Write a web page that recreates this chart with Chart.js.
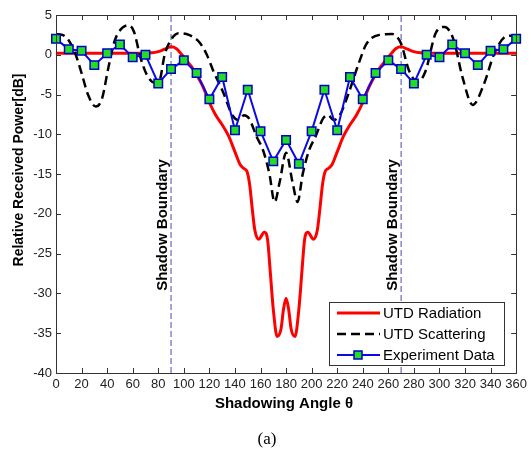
<!DOCTYPE html>
<html>
<head>
<meta charset="utf-8">
<script src="https://cdn.jsdelivr.net/npm/chart.js@4.4.1/dist/chart.umd.min.js"></script>
<style>
  body { margin: 0; background: #fff; }
  #wrap { width: 531px; height: 450px; }
</style>
</head>
<body>
<div id="wrap"><canvas id="chart" width="531" height="450"></canvas></div>
<script>
// UTD Radiation (red solid)
const radAngles = [0, 10, 20, 30, 40, 50, 60, 70, 75, 80, 85, 90, 94, 98, 102, 106, 110, 115, 120, 125, 130, 135, 140, 144, 147, 149.5, 151.5, 153.5, 155.5, 158.5, 163, 165.5, 167.5, 170, 173, 176, 178, 180,
    182, 184, 187, 190, 192.5, 194.5, 197, 201.5, 204.5, 206.5, 208.5, 210.5, 213, 216, 220, 225, 230, 235, 240, 245, 250, 254, 258, 262, 266, 270, 275, 280, 285, 290, 300, 310, 320, 330, 340, 350, 360];
const radPower = [0.2, 0.2, 0.2, 0.2, 0.2, 0.2, 0.2, 0.2, 0.25, 0.4, 0.7, 1.0, 0.8, 0.1, -0.7, -1.5, -2.5, -4.0, -6.0, -7.6, -8.8, -10.2, -12.2, -13.8, -14.3, -14.7, -16.3, -19.3, -22.0, -23.2, -22.3, -23.2, -27.0, -32.0, -35.4, -34.5, -32.0, -30.6,
    -32.0, -34.5, -35.4, -32.0, -27.0, -23.2, -22.3, -23.2, -22.0, -19.3, -16.3, -14.7, -14.3, -13.8, -12.2, -10.2, -8.8, -7.6, -6.0, -4.0, -2.5, -1.5, -0.7, 0.1, 0.8, 1.0, 0.7, 0.4, 0.25, 0.2, 0.2, 0.2, 0.2, 0.2, 0.2, 0.2, 0.2];

// UTD Scattering (black dashed)
const scatAngles = [0, 5, 10, 15, 20, 25, 31, 36, 41, 46, 52, 57, 61, 66, 71, 77, 81, 85, 90, 96, 104, 112, 118, 123, 131, 138, 143, 147, 151, 157, 162, 167, 171, 175, 180,
    185, 189, 193, 198, 203, 209, 213, 217, 222, 229, 237, 243, 253, 263, 270, 276, 283, 289, 297, 304, 311, 318, 326, 335, 343, 352, 357, 360];
const scatPower = [2.6, 2.5, 1.8, 0.2, -2.3, -5.0, -6.5, -5.5, -1.6, 1.8, 3.4, 3.7, 2.9, -0.3, -2.5, -3.5, -3.2, 0.0, 1.9, 2.7, 2.5, 1.6, 0.0, -2.0, -4.8, -7.6, -8.2, -7.6, -8.0, -10.3, -12.0, -15.0, -18.5, -16.0, -12.3,
    -16.0, -18.5, -15.0, -12.0, -10.3, -8.0, -7.6, -8.2, -7.6, -4.8, -1.0, 1.4, 2.5, 2.6, 1.4, -1.9, -3.4, -2.1, 2.7, 3.5, 1.9, -2.8, -6.3, -3.6, 0.2, 2.3, 2.4, 2.2];

// Experiment data (blue with green squares)
const expAngles = [0, 10, 20, 30, 40, 50, 60, 70, 80, 90, 100, 110, 120, 130, 140, 150, 160, 170, 180,
    190, 200, 210, 220, 230, 240, 250, 260, 270, 280, 290, 300, 310, 320, 330, 340, 350, 360];
const expPower = [2.0, 0.7, 0.5, -1.3, 0.2, 1.3, -0.3, 0.0, -3.6, -1.8, -0.7, -2.3, -5.6, -2.8, -9.5, -4.4, -9.6, -13.4, -10.7,
    -13.7, -9.6, -4.4, -9.5, -2.8, -5.6, -2.3, -0.7, -1.8, -3.6, 0.0, -0.3, 1.3, 0.2, -1.3, 0.5, 0.7, 2.0];

const boundaryAngles = [90, 270];
const seriesNames = ['UTD Radiation', 'UTD Scattering', 'Experiment Data'];
const xTicks = [0, 360, 20];
const yTicks = [-40, 5, 5];

const SANS = '"Liberation Sans", Arial, sans-serif';

function pairs(xs, ys) {
    return xs.map(function (v, i) { return { x: v, y: ys[i] }; });
}

let boundaryData = [];
boundaryAngles.forEach(function (a, i) {
    if (i > 0) boundaryData.push({ x: a - 1, y: null });
    boundaryData.push({ x: a, y: yTicks[0] }, { x: a, y: yTicks[1] });
});

const decor = {
    id: 'decor',
    afterDraw(chart) {
        const ctx = chart.ctx;
        const a = chart.chartArea;
        const xs = chart.scales.x, ys = chart.scales.y;
        ctx.save();

        // axes box
        ctx.strokeStyle = '#333';
        ctx.lineWidth = 1;
        ctx.strokeRect(Math.round(a.left) + 0.5, Math.round(a.top) + 0.5, Math.round(a.right - a.left), Math.round(a.bottom - a.top));

        // inward ticks
        ctx.beginPath();
        xs.ticks.forEach(function (t) {
            let px = Math.round(xs.getPixelForValue(t.value)) + 0.5;
            ctx.moveTo(px, a.bottom); ctx.lineTo(px, a.bottom - 5);
            ctx.moveTo(px, a.top); ctx.lineTo(px, a.top + 5);
        });
        ys.ticks.forEach(function (t) {
            let py = Math.round(ys.getPixelForValue(t.value)) + 0.5;
            ctx.moveTo(a.left, py); ctx.lineTo(a.left + 5, py);
            ctx.moveTo(a.right, py); ctx.lineTo(a.right - 5, py);
        });
        ctx.stroke();

        // Shadow Boundary labels
        ctx.fillStyle = '#000';
        ctx.font = 'bold 15px ' + SANS;
        ctx.textAlign = 'center';
        ctx.textBaseline = 'middle';
        boundaryAngles.forEach(function (ang) {
            ctx.save();
            ctx.translate(xs.getPixelForValue(ang) - 8, 225);
            ctx.rotate(-Math.PI / 2);
            ctx.fillText('Shadow Boundary', 0, 0);
            ctx.restore();
        });

        // legend
        const lx = 329, ly = 302, lw = 175, lh = 63;
        ctx.fillStyle = '#fff';
        ctx.fillRect(lx, ly, lw, lh);
        ctx.strokeStyle = '#333';
        ctx.lineWidth = 1;
        ctx.strokeRect(lx + 0.5, ly + 0.5, lw, lh);
        const rows = [313, 334, 355];
        chart.data.datasets.slice(0, 3).forEach(function (ds, i) {
            ctx.save();
            ctx.strokeStyle = ds.borderColor;
            ctx.lineWidth = ds.borderWidth;
            ctx.setLineDash(ds.borderDash || []);
            ctx.beginPath();
            ctx.moveTo(337, rows[i]); ctx.lineTo(380, rows[i]);
            ctx.stroke();
            ctx.restore();
            if (ds.pointRadius > 0) {
                ctx.fillStyle = ds.pointBackgroundColor;
                ctx.strokeStyle = ds.pointBorderColor;
                ctx.lineWidth = ds.pointBorderWidth;
                ctx.fillRect(354, rows[i] - 4, 8, 8);
                ctx.strokeRect(354, rows[i] - 4, 8, 8);
            }
            ctx.fillStyle = '#000';
            ctx.font = '15px ' + SANS;
            ctx.textAlign = 'left';
            ctx.fillText(seriesNames[i], 383, rows[i] + 1);
        });

        // axis titles and caption
        ctx.fillStyle = '#000';
        ctx.textAlign = 'center';
        ctx.font = 'bold 15px ' + SANS;
        ctx.fillText('Shadowing Angle \u03b8', 284, 404);
        ctx.save();
        ctx.translate(19, 170);
        ctx.rotate(-Math.PI / 2);
        ctx.font = 'bold 14px ' + SANS;
        ctx.fillText('Relative Received Power[dB]', 0, 0);
        ctx.restore();
        ctx.font = '17px "Liberation Serif", "Times New Roman", serif';
        ctx.fillText('(a)', 267, 440);

        ctx.restore();
    }
};

new Chart(document.getElementById('chart'), {
    type: 'line',
    data: {
        datasets: [
            {
                label: seriesNames[0],
                data: pairs(radAngles, radPower),
                borderColor: '#ff0000',
                borderWidth: 3,
                pointRadius: 0,
                cubicInterpolationMode: 'monotone',
                order: 3
            },
            {
                label: seriesNames[1],
                data: pairs(scatAngles, scatPower),
                borderColor: '#000000',
                borderWidth: 2.5,
                borderDash: [9, 5],
                pointRadius: 0,
                cubicInterpolationMode: 'monotone',
                order: 2
            },
            {
                label: seriesNames[2],
                data: pairs(expAngles, expPower),
                borderColor: '#0a0ae6',
                borderWidth: 2,
                pointStyle: 'rect',
                pointRadius: 6,
                pointBackgroundColor: '#22dd22',
                pointBorderColor: '#0000cc',
                pointBorderWidth: 1.5,
                tension: 0,
                clip: false,
                order: 1
            },
            {
                label: 'boundary',
                data: boundaryData,
                borderColor: '#4a4ab4',
                borderWidth: 1,
                borderDash: [6, 3],
                pointRadius: 0,
                spanGaps: false,
                order: 4
            }
        ]
    },
    options: {
        responsive: false,
        animation: false,
        devicePixelRatio: 1,
        layout: { padding: { top: 15, right: 14, left: 0, bottom: 0 } },
        plugins: { legend: { display: false }, tooltip: { enabled: false } },
        scales: {
            x: {
                type: 'linear',
                min: xTicks[0], max: xTicks[1],
                grid: { display: false, drawTicks: false },
                border: { display: false },
                ticks: { stepSize: xTicks[2], autoSkip: false, maxRotation: 0, padding: 4, color: '#222', font: { family: SANS, size: 13 } },
                afterFit(scale) { scale.height = 77; }
            },
            y: {
                type: 'linear',
                min: yTicks[0], max: yTicks[1],
                grid: { display: false, drawTicks: false },
                border: { display: false },
                ticks: { stepSize: yTicks[2], padding: 4, color: '#222', font: { family: SANS, size: 13 } },
                afterFit(scale) { scale.width = 56; }
            }
        }
    },
    plugins: [decor]
});
</script>
</body>
</html>
